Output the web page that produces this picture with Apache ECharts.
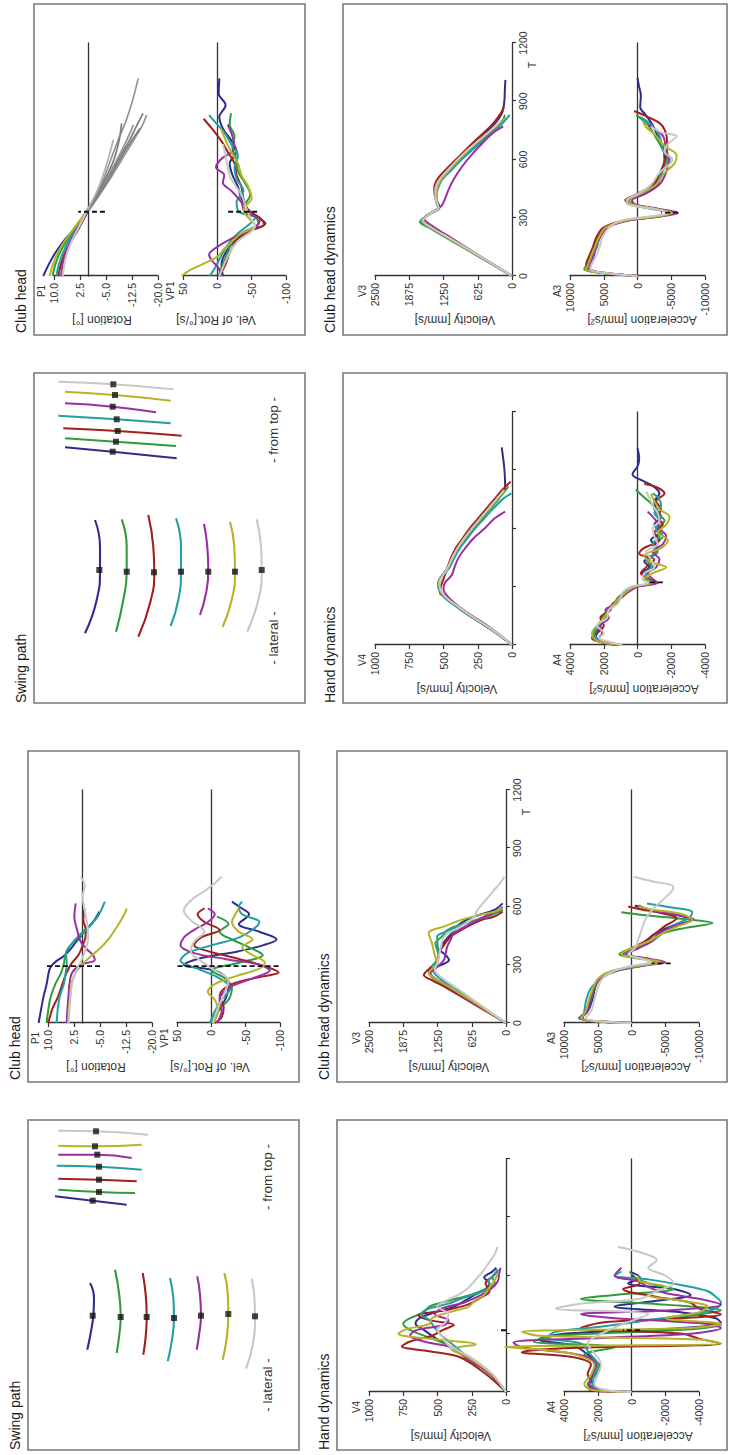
<!DOCTYPE html>
<html><head><meta charset="utf-8">
<script src="https://cdn.jsdelivr.net/npm/echarts@6/dist/echarts.min.js"></script>
<style>
html,body{margin:0;padding:0;background:#fff;width:729px;height:1455px;overflow:hidden;}
#wrap{position:absolute;left:0;top:0;width:1455px;height:729px;transform-origin:0 0;transform:translate(0px,1455px) rotate(-90deg);background:#fff;}
</style></head><body><div id="wrap"></div>
<script>
// ---------------- DATA ----------------
const CURVE_NAMES = ['blue','green','red','cyan','magenta','olive','gray'];
const CURVE_COLORS = ['#2d2d8f','#2f9c3c','#a3201c','#22a0a0','#9a2fa5','#b5b327','#c8c8c8'];
const TIME_TICKS = [0,300,600,900,1200];

// Swing path: lateral view (left subject), [horizontal, vertical] in panel units
const LAT_L = [
 [[167,62],[152,66],[134.3,65.3],[117,62.7],[100.3,59.3]],
 [[180.3,87],[157,91],[133,92.7],[115.3,91.3],[97,88.7]],
 [[177,114.7],[155.3,117.7],[133,118.7],[113.7,117.7],[95.3,115.3]],
 [[172,142],[152,145.3],[132,146],[108.7,143.7],[88.7,139.7]],
 [[173.7,169.3],[155.3,172],[134.3,173],[117,171.3],[100.3,168.7]],
 [[177,196.3],[157,199.7],[136,200.3],[112,198.7],[90.3,194.7]],
 [[171.3,223.7],[153.7,226.3],[133.7,227],[105.3,224.7],[81.3,218]]
];
const LAT_MARK_L = [[134.3,64.7],[133,92.7],[133,118.7],[132,146],[134.3,173],[136,200.3],[133.7,227]];
const TOP_L = [
 [[253.7,27],[249.3,64.7],[245.3,98.7]],
 [[260.3,30.3],[258,71],[257,107]],
 [[271.3,30.3],[270.3,71],[268.7,108.7]],
 [[284.3,28.7],[283.3,71],[280.3,113.7]],
 [[295.3,30.3],[295.3,69.3],[292,103.7]],
 [[304.3,30.3],[303.7,67],[305.3,113.7]],
 [[319.3,30.3],[318.7,68],[315.3,120.3]]
];
const TOP_MARK_L = [[249.3,64.7],[258,71],[270.3,71],[283.3,71],[295.3,69.3],[303.7,67],[318.7,68]];
const LAT_R = [
 [[183,61],[156.3,66],[133,66],[103,62.7],[69.7,51]],
 [[183.7,87.7],[156.3,92.7],[131.3,92.7],[103,89.3],[71.3,82]],
 [[188,114.3],[156.3,119.3],[130.7,120.3],[99.7,116],[66.3,104.3]],
 [[184.7,142],[156.3,147],[131.3,147],[103,144.3],[77,136.7]],
 [[179,170],[156.3,173.3],[131.3,174.3],[109.7,172],[88,166]],
 [[181.3,196],[156.3,200.3],[131.3,201],[103,197.7],[76.3,188.7]],
 [[183.7,222.7],[156.3,227],[133,227.7],[103,224.3],[71.3,213.3]]
];
const LAT_MARK_R = [[133,65.3],[131.3,92.7],[130.7,120],[131.3,147],[131.3,174.3],[131.3,201],[133,227.7]];
const TOP_R = [
 [[255.7,31],[251.3,78.7],[244.7,142.7]],
 [[264.7,31],[261.3,82],[257,142]],
 [[274.7,29.3],[272,83.7],[267.3,147.7]],
 [[287.3,24.3],[283.7,82.7],[279.7,136.7]],
 [[299.7,31],[296.3,78.7],[290.7,122]],
 [[311.3,31],[308,81],[302.3,136.7]],
 [[321.3,24.3],[318.7,79.3],[313.7,139.3]]
];
const TOP_MARK_R = [[251.3,78.7],[261.3,82],[272,83.7],[283.7,82.7],[296.3,78.7],[308,81],[318.7,79.3]];

// Club head rotation [deg] vs T  (left subject)
const P1_L = [
 [[0,12.7],[70,12],[136,11.3],[200,10.4],[260,9.8],[290,9.2],[320,7.5],[345,5.4],[380,3.5],[420,1.8],[479,-1.0],[530,-3.4],[573,-4.8]],
 [[0,10.4],[70,9.9],[136,9.2],[204,7.8],[260,6.2],[307,5.4],[342,5.1],[376,4.4],[420,2.6],[479,-0.6],[520,-3.0],[560,-4.8]],
 [[0,9.9],[70,8.8],[136,7.1],[204,5.8],[260,4.6],[307,3.2],[350,1.2],[400,0.0],[440,-0.8],[480,-0.9],[530,-0.2],[590,-0.5]],
 [[0,7.5],[70,7.2],[136,6.6],[204,5.4],[260,4.9],[307,4.6],[360,4.8],[410,3.0],[479,-1.0],[550,-4.4],[625,-6.4]],
 [[0,4.6],[70,4.4],[136,4.1],[204,3.8],[260,3.0],[300,0.5],[324,-3.5],[350,-3.0],[380,-1.2],[420,0.6],[479,1.6],[548,2.4],[616,2.0]],
 [[0,4.2],[70,4.0],[136,3.6],[204,3.2],[260,2.0],[300,0.2],[330,-1.5],[393,-5.5],[440,-7.8],[479,-9.3],[548,-11.7],[590,-12.7]],
 [[0,4.0],[70,3.8],[136,3.5],[204,3.0],[260,2.0],[307,0.8],[376,-0.8],[440,-1.6],[500,-1.4],[580,-0.6],[650,0.0],[710,-0.6],[753,0.6]]
];
// Club head velocity of rotation [deg/s] (left subject)
const VP1_L = [
 [[0,-2],[60,-10],[120,-20],[180,-25],[230,-22],[270,-5],[300,40],[330,20],[370,-40],[400,-75],[430,-95],[470,-70],[510,-40],[560,-55],[600,-40],[625,-30]],
 [[0,0],[60,-8],[120,-25],[180,-30],[230,-20],[270,0],[310,-40],[350,-75],[390,-55],[430,-30],[470,-12],[510,-25],[548,-8]],
 [[0,-5],[30,-15],[80,-18],[140,-12],[200,-30],[240,-75],[260,-98],[290,-80],[330,-40],[370,5],[400,25],[440,15],[480,-12],[520,10],[560,20],[590,10]],
 [[0,2],[60,-5],[120,-15],[180,-28],[230,-12],[280,20],[320,45],[360,35],[400,0],[440,-40],[480,-60],[520,-70],[560,-45],[600,-40],[625,-45]],
 [[0,-8],[60,-15],[120,-12],[180,-25],[230,-60],[270,-85],[300,-70],[330,-20],[360,25],[400,45],[440,40],[480,25],[520,5],[560,-5],[590,5]],
 [[0,-3],[60,-10],[120,-5],[160,5],[200,-5],[240,-35],[280,-70],[310,-78],[350,-60],[390,-45],[430,-60],[470,-40],[520,-30],[560,-35],[590,-40]],
 [[0,-2],[80,-10],[160,-20],[220,-25],[270,-5],[320,15],[370,30],[420,25],[470,10],[530,30],[580,40],[630,30],[680,10],[720,-5],[753,-15]]
];
// Club head velocity [mm/s] (left subject)
const V3_L = [
 [[0,0],[60,330],[120,660],[180,990],[230,1300],[260,1400],[290,1250],[324,1040],[350,1100],[376,1195],[420,1120],[470,960],[513,830],[550,560],[582,215],[616,60]],
 [[0,0],[60,340],[120,680],[180,1020],[230,1330],[264,1410],[300,1330],[342,1225],[380,1260],[410,1287],[450,1150],[479,1072],[510,800],[548,337],[582,60]],
 [[0,0],[60,360],[120,720],[180,1080],[220,1350],[247,1500],[280,1400],[310,1256],[350,1230],[376,1195],[410,1110],[445,1010],[496,705],[530,450],[548,215],[573,60]],
 [[0,0],[60,320],[120,640],[180,960],[240,1250],[281,1350],[315,1280],[342,1225],[380,1240],[445,1256],[470,1100],[496,890],[530,550],[565,215],[599,60]],
 [[0,0],[60,340],[120,680],[180,1010],[230,1300],[256,1380],[290,1250],[324,1133],[360,1100],[393,1072],[430,1010],[462,950],[500,720],[530,520],[560,300],[590,60]],
 [[0,0],[60,330],[120,660],[180,1000],[230,1300],[256,1410],[285,1330],[307,1256],[350,1300],[410,1350],[462,1410],[500,1100],[530,830],[555,500],[573,215],[590,60]],
 [[0,0],[60,300],[120,600],[180,900],[240,1200],[275,1300],[310,1250],[350,1220],[400,1180],[445,1130],[496,830],[540,600],[582,520],[630,380],[685,215],[730,80],[753,30]]
];
// Club head acceleration [mm/s^2] (left subject)
const A3_L = [
 [[0,0],[25,7600],[60,6500],[120,5800],[180,5400],[230,4800],[265,3000],[295,-1000],[313,-4800],[330,-2000],[355,1000],[385,-500],[420,-2000],[460,-3500],[500,-6000],[530,-9000],[555,-7000],[580,-3000],[605,-500]],
 [[0,0],[25,7800],[60,6800],[120,6000],[180,5500],[230,4500],[265,2500],[295,-1500],[313,-4500],[330,-1500],[355,1800],[385,0],[420,-2500],[460,-4500],[490,-8000],[515,-12000],[535,-8000],[555,-2000],[570,1500]],
 [[0,0],[25,7400],[60,6700],[120,6200],[180,5600],[230,4800],[265,2800],[295,-1200],[313,-4000],[330,-2500],[355,1200],[385,0],[420,-2000],[460,-3500],[500,-5000],[540,-6700],[565,-4500],[585,-1500],[600,500]],
 [[0,0],[25,7200],[60,7000],[120,6700],[180,6000],[230,4500],[265,2500],[295,-1800],[313,-4200],[330,-1800],[355,1000],[385,-500],[420,-3000],[460,-4500],[500,-6000],[540,-8500],[570,-9000],[595,-6000],[616,-2300]],
 [[0,0],[25,7700],[60,6600],[120,6100],[180,5600],[230,4700],[265,2700],[295,-1500],[313,-5000],[330,-2800],[355,800],[385,-1000],[420,-3000],[460,-4000],[500,-6500],[535,-9200],[560,-6000],[585,-2500],[605,-1000]],
 [[0,0],[25,7500],[60,6800],[120,6300],[180,5700],[230,4900],[265,3100],[295,-1000],[313,-4500],[330,-2000],[355,1500],[385,0],[420,-2500],[460,-4500],[500,-7000],[530,-9000],[560,-7500],[585,-3000],[600,-1000]],
 [[0,0],[25,6800],[60,6000],[120,5500],[180,5000],[230,4300],[265,2800],[295,0],[313,-3000],[330,-1500],[355,500],[385,-500],[430,-1000],[480,-1500],[530,-2000],[580,-3000],[630,-4500],[680,-6000],[702,-6200],[730,-3000],[753,-300]]
];
// Hand velocity [mm/s] (left subject)
const V4_L = [
 [[0,0],[94,120],[180,290],[230,400],[280,520],[320,600],[352,660],[380,630],[410,520],[440,380],[470,300],[500,230],[530,150],[560,120],[590,160],[620,100],[640,70]],
 [[0,0],[94,115],[180,300],[240,420],[280,560],[320,700],[352,750],[380,700],[410,600],[440,560],[470,420],[500,260],[530,150],[560,80],[590,100],[620,60]],
 [[0,0],[94,150],[180,340],[210,560],[235,760],[260,700],[290,540],[320,460],[345,380],[370,560],[395,640],[420,450],[450,280],[480,200],[520,120],[560,150],[600,90],[630,60]],
 [[0,0],[94,110],[180,280],[240,380],[290,470],[330,520],[370,560],[400,620],[425,580],[455,420],[480,330],[510,200],[540,110],[570,130],[600,90],[630,55]],
 [[0,0],[94,120],[180,300],[230,400],[260,600],[290,700],[320,650],[345,450],[370,420],[400,520],[430,470],[460,310],[500,180],[530,110],[570,60],[610,50],[640,40]],
 [[0,0],[94,110],[180,280],[220,400],[245,220],[270,500],[300,786],[325,720],[350,560],[380,540],[410,420],[440,270],[470,230],[500,160],[540,120],[580,80],[610,60]],
 [[0,0],[94,100],[180,260],[240,420],[280,460],[320,500],[360,440],[400,420],[440,500],[470,440],[500,350],[540,270],[580,220],[620,170],[660,130],[700,90],[747,60]]
];
// Hand acceleration [mm/s^2] (left subject)
const A4_L = [
 [[0,0],[10,2100],[40,2500],[90,2300],[140,2100],[200,2700],[240,3500],[270,5500],[300,4000],[330,-3000],[355,-5300],[380,-5000],[410,-3000],[440,1000],[470,-1500],[500,-3500],[530,-2500],[560,200],[590,-500],[620,100]],
 [[0,0],[10,2200],[40,2600],[90,2100],[140,1900],[190,2800],[230,1000],[260,5800],[290,4500],[320,-3000],[345,-5300],[370,-2000],[400,-4000],[420,-5300],[450,-2000],[480,3000],[500,1000],[530,-2500],[560,-1000],[590,-200],[620,100]],
 [[0,0],[10,2500],[40,2300],[90,2600],[140,2400],[180,3500],[205,6500],[225,4000],[250,-5300],[275,-4000],[300,-3000],[330,3000],[360,1500],[380,-3000],[400,-5300],[430,-4000],[460,-3500],[490,-1500],[530,500],[560,-500],[600,0]],
 [[0,0],[10,1800],[40,2300],[90,2200],[140,2000],[200,2500],[250,3000],[280,5000],[310,4500],[340,1500],[370,-1000],[400,-3500],[430,-5000],[460,-5300],[490,-5000],[520,-4500],[550,-3000],[580,-1000],[600,1000],[620,600]],
 [[0,0],[10,2000],[40,2500],[90,2300],[140,2100],[190,3000],[230,6500],[255,7000],[280,1500],[300,-3500],[330,-5300],[355,-4000],[380,1000],[400,3000],[420,-2000],[450,-5300],[480,-4000],[510,-2000],[540,-1000],[570,-400],[600,1000],[640,600]],
 [[0,0],[10,2300],[40,2800],[90,2400],[140,2200],[190,3200],[215,5000],[232,7500],[250,-5300],[270,-4000],[290,5500],[310,6500],[330,-3500],[350,-5300],[380,-2000],[410,-4000],[440,-4500],[470,-3000],[500,-1000],[540,-2000],[570,-500],[600,-400]],
 [[0,0],[10,1500],[40,2200],[90,2000],[140,1800],[200,2200],[250,2600],[300,1800],[350,500],[400,-1000],[430,4500],[455,3000],[480,-500],[520,-1500],[560,-2500],[600,-2000],[640,-1000],[680,-1500],[720,-500],[747,800]]
];

// Right subject
const P1_R = [
 [[0,13.1],[60,11.5],[120,9.6],[180,7.2],[240,4.3],[300,1.8],[331,0.8],[420,-2.2],[500,-4.3],[600,-6.4],[700,-8.5],[800,-10.8],[900,-12.6],[1018,-14.3]],
 [[0,10.4],[60,9.6],[120,8.3],[180,6.4],[240,4.0],[300,1.7],[331,0.5],[420,-2.8],[500,-5.4],[600,-8.5],[700,-11.8],[780,-14.0],[838,-15.7]],
 [[0,8.8],[60,8.0],[120,6.8],[180,5.0],[240,3.0],[300,1.2],[331,0.2],[420,-3.2],[500,-6.2],[600,-9.6],[700,-13.0],[780,-15.6],[829,-16.7]],
 [[0,9.3],[60,8.6],[120,7.4],[180,5.8],[240,3.6],[300,1.4],[331,0.3],[420,-3.0],[500,-5.8],[600,-9.0],[700,-12.5],[760,-14.8]],
 [[0,8.0],[60,7.5],[120,6.6],[180,5.2],[240,3.4],[300,1.5],[331,0.4],[420,-2.6],[500,-5.2],[600,-8.2],[700,-11.0],[778,-12.9]],
 [[0,11.3],[60,10.3],[120,8.9],[180,6.9],[240,4.5],[300,2.0],[331,0.7],[420,-2.5],[500,-4.8],[600,-7.3],[700,-8.8],[786,-9.5]],
 [[0,7.5],[60,7.0],[120,6.2],[180,4.9],[240,3.2],[300,1.5],[331,0.6],[420,-2.0],[500,-3.8],[600,-5.6],[700,-7.1]]
];
const VP1_R = [
 [[0,-8],[60,-6],[120,-12],[180,-25],[230,-45],[271,-70],[300,-60],[340,-45],[400,-35],[460,-30],[520,-22],[580,-18],[640,-28],[700,-20],[760,-8],[820,-3],[880,-12],[940,-2],[1018,-3]],
 [[0,-2],[60,-8],[120,-15],[180,-22],[230,-40],[270,-60],[310,-55],[360,-40],[420,-48],[480,-40],[540,-30],[600,-28],[660,-22],[720,-25],[780,-18],[838,-20]],
 [[0,-3],[60,-12],[120,-18],[180,-28],[230,-45],[265,-68],[300,-62],[340,-45],[400,-38],[460,-35],[520,-28],[580,-25],[640,-15],[700,-5],[760,8],[810,20]],
 [[0,11],[50,2],[100,-5],[160,-15],[220,-30],[270,-48],[300,-55],[330,-32],[380,-28],[440,-38],[500,-28],[560,-25],[620,-30],[680,-20],[740,-10],[800,5],[829,12]],
 [[0,-5],[40,-2],[80,8],[110,12],[150,0],[200,-25],[250,-55],[290,-62],[330,-40],[380,-35],[440,-20],[480,-8],[520,-10],[560,2],[600,-5],[660,-25],[720,-22],[780,-15]],
 [[0,52],[30,40],[60,22],[100,0],[140,-10],[180,-22],[220,-35],[260,-55],[300,-45],[340,-38],[400,-50],[460,-45],[520,-35],[580,-30],[640,-20],[700,-12],[760,-5]],
 [[0,-3],[60,-10],[120,-18],[180,-30],[230,-50],[260,-55],[300,-48],[350,-42],[420,-35],[500,-20],[560,-15],[620,-12],[680,-8]]
];
const V3_R = [
 [[0,0],[50,290],[100,590],[150,880],[200,1180],[250,1470],[285,1630],[320,1500],[350,1330],[390,1370],[440,1380],[490,1330],[550,1150],[620,930],[700,640],[780,330],[840,180],[900,140],[960,130],[1010,120]],
 [[0,0],[50,300],[100,610],[150,910],[200,1220],[250,1520],[278,1680],[315,1530],[350,1350],[390,1390],[440,1390],[490,1320],[550,1120],[620,880],[700,560],[760,300],[800,170],[830,130]],
 [[0,0],[50,290],[100,580],[150,870],[200,1160],[250,1450],[288,1620],[325,1480],[355,1320],[395,1390],[445,1420],[490,1380],[550,1200],[620,950],[700,660],[780,360],[840,200],[870,150]],
 [[0,0],[50,295],[100,600],[150,900],[200,1200],[250,1500],[280,1660],[318,1510],[350,1340],[390,1380],[440,1360],[490,1290],[550,1090],[620,840],[700,520],[770,230],[810,100],[829,40]],
 [[0,0],[50,280],[100,570],[150,850],[200,1130],[250,1410],[295,1600],[330,1440],[360,1290],[400,1220],[450,1150],[500,1060],[560,920],[620,750],[690,520],[740,330],[770,160]],
 [[0,0],[50,290],[100,590],[150,890],[200,1190],[250,1490],[283,1640],[320,1490],[352,1340],[390,1370],[440,1370],[490,1310],[550,1130],[620,900],[700,590],[770,300],[810,150]],
 [[0,0],[50,285],[100,575],[150,870],[200,1170],[250,1470],[286,1620],[322,1490],[352,1340],[392,1390],[440,1400],[490,1340],[550,1160],[620,920],[700,600],[770,310],[800,200]]
];
const A3_R = [
 [[0,0],[15,5000],[35,7600],[60,7400],[100,6800],[150,6400],[200,5800],[250,4800],[285,2000],[305,-2500],[325,-5000],[345,-2500],[370,800],[390,1500],[420,0],[470,-2500],[530,-3600],[600,-4000],[660,-3800],[720,-3000],[780,-2200],[830,-1200],[870,-400],[930,-500],[980,-200],[1020,0]],
 [[0,0],[15,5200],[35,7900],[60,7500],[100,7000],[150,6500],[200,5900],[250,4600],[285,1800],[305,-3000],[325,-5200],[345,-2200],[370,1200],[390,1700],[420,-300],[470,-2800],[530,-3400],[600,-4300],[660,-3600],[720,-2600],[780,-1500],[830,200]],
 [[0,0],[15,4800],[35,7300],[60,7600],[100,7200],[150,6600],[200,6100],[250,5000],[285,2200],[305,-2000],[325,-4800],[345,-3000],[370,1000],[390,1800],[420,200],[470,-2200],[530,-3300],[600,-4100],[660,-4400],[720,-4300],[780,-3500],[820,-1500],[850,500]],
 [[0,0],[15,5100],[35,7500],[60,7200],[100,6700],[150,6000],[200,5600],[250,4500],[285,1600],[305,-2800],[325,-5400],[345,-2600],[370,600],[390,1200],[420,-500],[470,-3000],[530,-3500],[600,-4800],[660,-3700],[720,-3300],[780,-2000],[820,-400]],
 [[0,0],[15,4600],[35,7200],[60,7000],[100,6500],[150,6200],[200,5500],[250,4400],[285,1500],[305,-3000],[325,-6000],[345,-3200],[370,400],[390,800],[420,-1000],[470,-3200],[530,-4200],[600,-4600],[660,-4200],[720,-3800],[760,-2500],[780,-1600]],
 [[0,0],[15,5000],[35,7700],[60,7300],[100,6900],[150,6300],[200,5700],[250,4700],[285,1900],[305,-2600],[325,-5100],[345,-2700],[370,900],[390,1400],[420,-200],[470,-2700],[530,-4000],[580,-5500],[620,-5800],[670,-4000],[720,-2800],[770,-1200],[800,-800]],
 [[0,0],[15,4700],[35,7000],[60,6800],[100,6200],[150,5600],[200,5200],[250,4200],[285,2500],[305,-1500],[325,-4600],[345,-2500],[370,1500],[390,1600],[420,100],[470,-2000],[530,-3200],[600,-5200],[640,-4000],[680,-4500],[720,-5800],[740,-3500],[770,-2000]]
];
const V4_R = [
 [[0,0],[50,90],[100,190],[150,300],[200,400],[250,490],[290,530],[320,535],[350,515],[400,470],[450,440],[500,400],[550,350],[600,300],[650,240],[700,180],[750,120],[815,50],[900,55],[953,63],[1018,75]],
 [[0,0],[50,95],[100,200],[150,310],[200,410],[250,500],[290,535],[318,540],[350,520],[400,460],[450,425],[500,385],[550,335],[600,280],[650,220],[700,160],[750,100],[815,27]],
 [[0,0],[50,92],[100,195],[150,305],[200,405],[250,495],[266,525],[300,520],[340,500],[400,470],[450,445],[500,410],[550,360],[600,310],[650,250],[700,190],[750,130],[800,70],[841,10]],
 [[0,0],[50,90],[100,195],[150,305],[200,410],[250,500],[290,535],[318,538],[350,515],[400,455],[450,420],[500,380],[550,325],[600,270],[650,205],[700,140],[750,70],[781,5]],
 [[0,0],[50,85],[100,180],[150,290],[200,390],[250,470],[290,500],[320,490],[360,440],[400,420],[450,390],[500,340],[550,280],[600,200],[650,130],[687,50]],
 [[0,0],[50,88],[100,190],[150,300],[200,400],[250,490],[290,528],[320,532],[350,512],[400,465],[450,432],[500,395],[550,345],[600,290],[650,230],[700,170],[750,110],[800,55]],
 [[0,0],[50,88],[100,188],[150,298],[200,398],[250,488],[290,525],[320,530],[350,512],[400,468],[450,436],[500,398],[550,348],[600,295],[650,235],[700,175],[750,115],[795,60]]
];
const A4_R = [
 [[0,1100],[15,1900],[35,2500],[60,2400],[100,2200],[140,2000],[180,1700],[210,1300],[240,1100],[270,700],[300,200],[320,-800],[340,-500],[370,-300],[400,-700],[430,-400],[460,-900],[500,-1200],[540,-800],[580,-1300],[620,-1000],[660,-1400],[700,-1100],[740,-1000],[780,-1300],[820,-900],[850,-200],[880,300],[920,0],[960,-100],[1013,0]],
 [[0,1200],[15,2000],[35,2600],[60,2500],[100,2300],[140,2100],[180,1800],[210,1400],[240,1200],[270,800],[300,300],[320,-1000],[340,-400],[370,-600],[400,-900],[440,-500],[480,-1100],[520,-1000],[560,-1500],[600,-1200],[640,-1600],[680,-1100],[720,-900],[760,-400],[800,100]],
 [[0,1300],[15,2200],[35,2700],[60,2400],[100,2000],[140,2200],[180,1600],[210,1500],[240,1000],[270,600],[300,100],[320,-1100],[340,-700],[370,-200],[400,-500],[440,-1000],[470,-100],[500,-400],[540,-1300],[580,-1000],[620,-1500],[660,-1200],[700,-1400],[740,-1100],[780,-1600],[810,-1200],[830,-400]],
 [[0,1000],[15,1800],[35,2400],[60,2600],[100,2300],[140,1900],[180,1800],[210,1400],[240,1000],[270,700],[300,100],[320,-900],[340,-600],[370,-500],[400,-800],[440,-700],[480,-1200],[520,-900],[560,-1300],[600,-1100],[640,-1300],[680,-1000],[720,-1400],[760,-1200],[781,-900]],
 [[0,1200],[15,2100],[35,2300],[60,2100],[100,2200],[140,1700],[180,1900],[210,1300],[240,1100],[270,600],[300,0],[320,-1200],[340,-900],[370,-600],[400,-1100],[440,-1300],[480,-900],[520,-1500],[560,-1700],[600,-1300],[640,-1100],[687,-600]],
 [[0,1000],[15,2200],[35,2600],[60,2700],[100,2400],[140,2000],[180,1700],[210,1400],[240,1100],[270,700],[300,200],[320,-900],[340,-400],[370,-900],[400,-1700],[430,-700],[460,-400],[500,-1400],[540,-1800],[580,-1200],[620,-1700],[660,-1900],[700,-1300],[740,-1000],[780,-800]],
 [[0,900],[15,1600],[35,2300],[60,2000],[100,2400],[140,1800],[180,1700],[210,1200],[240,1000],[270,900],[300,400],[320,-600],[340,-300],[370,-400],[400,-1000],[440,-800],[480,-500],[520,-1200],[560,-1000],[600,-900],[640,-1300],[680,-1200],[720,-900],[760,-700],[790,-500]]
];
// mean impact markers: [T, low, high]
const MARK_L = {p1:[293,-5,10.5], vp1:[293,-98,52], a3:[307,-5800,-3000], v4:[318,0,60], a4:[318,-500,500]};
const MARK_R = {p1:[331,-4.7,3.0], vp1:[331,-58,-14], a3:[326,-6000,-3500], a4:[323,-1500,-600]};
const GRAY_AFTER_R = 331;

// ---------------- BUILD ----------------
const FONT = "'Liberation Sans', Arial, Helvetica, sans-serif";
const AX = '#333';
const grids = [], xAxes = [], yAxes = [], series = [], graphics = [];
const plainNum = function (v) { return String(v); };

function txt(s, x, y, size, opt) {
  opt = opt || {};
  graphics.push({type:'text', x:x, y:y, rotation: opt.rot || 0, silent:true, z:10,
    style:{text:s, fill: opt.color || '#222', fontSize:size, fontFamily:FONT,
      align: opt.align || 'center', verticalAlign: opt.va || 'middle'}});
}
function box(x, y, w, h) {
  graphics.push({type:'rect', silent:true, z:1, shape:{x:x, y:y, width:w, height:h},
    style:{fill:'none', stroke:'#7a7a7a', lineWidth:1.6}});
}
function plot(p) {
  const gi = grids.length;
  grids.push({left:p.x, top:p.y, width:233, height:p.h});
  const isV = p.kind === 'v';
  xAxes.push({gridIndex:gi, type:'value', min:TIME_TICKS[0], max:TIME_TICKS[TIME_TICKS.length - 1], interval:TIME_TICKS[1] - TIME_TICKS[0],
    axisLine:{show:true, onZero:!isV, lineStyle:{color:AX, width:1.3}},
    axisTick:{show:isV, length:4, lineStyle:{color:AX, width:1.2}},
    axisLabel:{show:!!p.tLabels, margin:5, fontSize:10.5, color:'#333', fontFamily:FONT, formatter:plainNum, showMinLabel:true, showMaxLabel:true},
    splitLine:{show:false}});
  yAxes.push({gridIndex:gi, type:'value', min:p.min, max:p.max, interval:p.step,
    axisLine:{show:true, onZero:false, lineStyle:{color:AX, width:1.3}},
    axisTick:{show:true, length:4, lineStyle:{color:AX, width:1.2}},
    axisLabel:{margin:7, fontSize:10.5, color:'#333', fontFamily:FONT, formatter:p.fmt || plainNum, showMinLabel:true, showMaxLabel:true},
    splitLine:{show:false}});
  p.curves.forEach(function (c, i) {
    const base = {type:'line', xAxisIndex:gi, yAxisIndex:gi, showSymbol:false, smooth:0.35, clip:false,
      silent:true, animation:false, z:3};
    if (p.grayAfter != null) {
      series.push(Object.assign({}, base, {name:CURVE_NAMES[i], data:c.filter(d => d[0] <= p.grayAfter),
        lineStyle:{color:CURVE_COLORS[i], width:2}}));
      series.push(Object.assign({}, base, {name:CURVE_NAMES[i] + '-after', data:c.filter(d => d[0] >= p.grayAfter),
        lineStyle:{color: i === 6 ? '#b0b0b0' : (i % 2 ? '#7d7d7d' : '#949494'), width:1.7}, z:2}));
    } else {
      series.push(Object.assign({}, base, {name:CURVE_NAMES[i], data:c, lineStyle:{color:CURVE_COLORS[i], width:2}}));
    }
  });
  if (p.marker) {
    const m = p.marker;
    series.push({type:'line', xAxisIndex:gi, yAxisIndex:gi, showSymbol:false, clip:false, silent:true, animation:false, z:5,
      data:[[m[0], m[1]], [m[0], m[2]]], lineStyle:{color:'#111', width:1.8, type:[5,3]}});
  }
  txt(p.tag, p.x - 15, p.y - 13, 10, {color:'#333'});
  txt(p.name, p.x - 44, p.nameY, 12, {rot:Math.PI/2, color:'#333'});
  if (p.tLabels) txt('T', p.x + 211, p.y + p.h + 20, 10.5, {color:'#333'});
}
function swing(x, y, lat, latMark, top, topMark) {
  const gi = grids.length;
  grids.push({left:x, top:y, width:330, height:272});
  xAxes.push({gridIndex:gi, type:'value', min:0, max:330, show:false});
  yAxes.push({gridIndex:gi, type:'value', min:0, max:272, inverse:true, show:false});
  [lat, top].forEach(function (set) {
    set.forEach(function (c, i) {
      series.push({type:'line', xAxisIndex:gi, yAxisIndex:gi, data:c, showSymbol:false, smooth:0.5,
        silent:true, animation:false, lineStyle:{color:CURVE_COLORS[i], width:2.1}, z:3});
    });
  });
  series.push({type:'scatter', xAxisIndex:gi, yAxisIndex:gi, data:latMark.concat(topMark), symbol:'rect',
    symbolSize:[6,6], itemStyle:{color:'#151515'}, silent:true, animation:false, z:6});
}
function half(dx, dy, D) {
  box(752 + dx, 34 + dy, 330, 271);
  box(1120 + dx, 34 + dy, 331, 271);
  box(752 + dx, 343 + dy, 330, 384 - dy);
  box(1120 + dx, 343 + dy, 331, 384 - dy);
  txt('Swing path', 752 + dx, 21 + dy, 14, {align:'left', color:'#1a1a1a'});
  txt('Club head', 1122 + dx, 21 + dy, 14, {align:'left', color:'#1a1a1a'});
  txt('Hand dynamics', 752 + dx, 330 + dy, 14, {align:'left', color:'#1a1a1a'});
  txt('Club head dynamics', 1122 + dx, 330 + dy, 14, {align:'left', color:'#1a1a1a'});
  swing(752 + dx, 34 + dy, D.lat, D.latMark, D.top, D.topMark);
  txt('- lateral -', 817 + dx, 273 + dy, 13.5, {color:'#333'});
  txt('- from top -', 1025 + dx, 273 + dy, 13.5, {color:'#333'});
  plot({x:1179 + dx, y:54 + dy, h:104, min:-20, max:10, step:7.5, fmt:function (v) { return v.toFixed(1); },
    kind:'p', curves:D.p1, marker:D.mark.p1, grayAfter:D.grayAfter, tag:'P1', name:'Rotation [°]', nameY:102 + dy});
  plot({x:1179 + dx, y:183 + dy, h:103, min:-100, max:50, step:50, kind:'p', curves:D.vp1, marker:D.mark.vp1,
    tag:'VP1', name:'Vel. of Rot.[°/s]', nameY:216 + dy});
  plot({x:1179 + dx, y:375 + dy, h:137, min:0, max:2500, step:625, kind:'v', tLabels:true, curves:D.v3,
    tag:'V3', name:'Velocity [mm/s]', nameY:455 + dy});
  plot({x:1179 + dx, y:570 + dy, h:135, min:-10000, max:10000, step:5000, kind:'a', curves:D.a3, marker:D.mark.a3,
    tag:'A3', name:'Acceleration [mm/s²]', nameY:642 + dy});
  plot({x:810 + dx, y:375 + dy, h:137, min:0, max:1000, step:250, kind:'v', curves:D.v4, marker:D.mark.v4,
    tag:'V4', name:'Velocity [mm/s]', nameY:457 + dy});
  plot({x:810 + dx, y:570 + dy, h:135, min:-4000, max:4000, step:2000, kind:'a', curves:D.a4, marker:D.mark.a4,
    tag:'A4', name:'Acceleration [mm/s²]', nameY:644 + dy});
}
half(-747, -6, {lat:LAT_L, latMark:LAT_MARK_L, top:TOP_L, topMark:TOP_MARK_L, p1:P1_L, vp1:VP1_L, v3:V3_L, a3:A3_L,
  v4:V4_L, a4:A4_L, mark:MARK_L, grayAfter:null});
half(0, 0, {lat:LAT_R, latMark:LAT_MARK_R, top:TOP_R, topMark:TOP_MARK_R, p1:P1_R, vp1:VP1_R, v3:V3_R, a3:A3_R,
  v4:V4_R, a4:A4_R, mark:MARK_R, grayAfter:GRAY_AFTER_R});

const chart = echarts.init(document.getElementById('wrap'), null, {renderer:'svg', width:1455, height:729});
chart.setOption({animation:false, backgroundColor:'#fff', textStyle:{fontFamily:FONT},
  grid:grids, xAxis:xAxes, yAxis:yAxes, series:series, graphic:graphics});
</script></body></html>
